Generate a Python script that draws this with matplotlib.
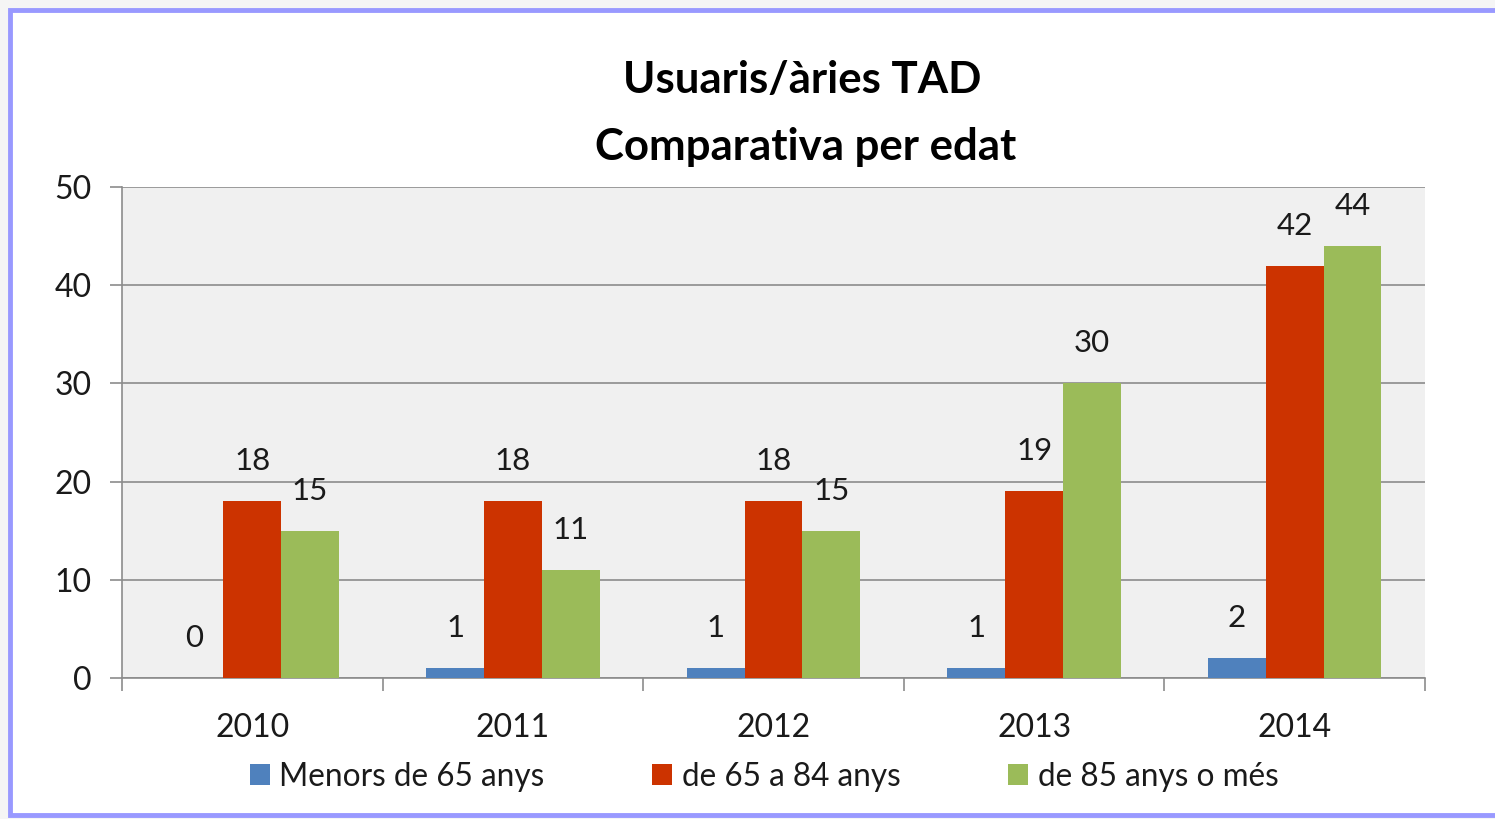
import matplotlib
matplotlib.use("Agg")
import matplotlib.pyplot as plt
from matplotlib.patches import Rectangle, Patch
import numpy as np

years = ["2010", "2011", "2012", "2013", "2014"]
series_names = ["Menors de 65 anys", "de 65 a 84 anys", "de 85 anys o més"]
menors65 = [0, 1, 1, 1, 2]
de65a84 = [18, 18, 18, 19, 42]
de85 = [15, 11, 15, 30, 44]
colors = ["#4F81BD", "#CC3300", "#9BBB59"]

plt.rcParams['font.family'] = ['Lato', 'DejaVu Sans']

W, H = 1495, 819
fig = plt.figure(figsize=(W / 100, H / 100), dpi=100)
fig.patch.set_facecolor("#F5F5F5")

# white panel with lavender border
fig.add_artist(Rectangle((10 / W, 1 - 815 / H), (W + 20) / W, (815 - 10) / H,
                         transform=fig.transFigure, facecolor="white",
                         edgecolor="#9999FF", linewidth=3.5, zorder=0))

ax = fig.add_axes([122 / W, 1 - 678 / H, (1425 - 122) / W, (678 - 187) / H])
ax.set_facecolor("#F0F0F0")

x = np.arange(len(years))
bw = 0.222
data = [menors65, de65a84, de85]
for i, (vals, c) in enumerate(zip(data, colors)):
    pos = x + (i - 1) * bw
    ax.bar(pos, vals, width=bw, color=c, zorder=3, label=series_names[i])
    for px, v in zip(pos, vals):
        ax.annotate(str(v), (px, v), xytext=(0, 40), textcoords="offset pixels",
                    ha="center", va="center", fontsize=22.5, color="#1a1a1a", zorder=4)

ax.set_xlim(-0.5, len(years) - 0.5)
ax.set_ylim(0, 50)
ax.set_yticks(range(0, 51, 10))
ax.yaxis.grid(True, color="#8C8C8C", linewidth=1.2, zorder=1)
ax.set_axisbelow(True)

ax.set_xticks(x)
ax.set_xticklabels(years)
ax.set_xticks(np.arange(-0.5, len(years), 1), minor=True)
ax.tick_params(axis="x", which="major", length=0, pad=25, labelsize=23, labelcolor="#1a1a1a")
ax.tick_params(axis="x", which="minor", length=9, width=1.2, color="#8C8C8C")
ax.tick_params(axis="y", length=9, width=1.2, color="#8C8C8C", pad=13, labelsize=23, labelcolor="#1a1a1a")

for s in ["top", "right"]:
    ax.spines[s].set_visible(False)
for s in ["left", "bottom"]:
    ax.spines[s].set_color("#8C8C8C")
    ax.spines[s].set_linewidth(1.2)

fig.text(802 / W, 1 - 80 / H, "Usuaris/àries TAD", ha="center", va="center",
         fontsize=31.5, fontweight="bold", color="black")
fig.text(806 / W, 1 - 147 / H, "Comparativa per edat", ha="center", va="center",
         fontsize=31.5, fontweight="bold", color="black")

handles = [Patch(facecolor=c) for c in colors]
fig.legend(handles, series_names, loc="center", bbox_to_anchor=(764 / W, 1 - 777 / H),
           ncol=3, frameon=False, fontsize=22.7, handlelength=0.65, handleheight=0.65,
           handletextpad=0.3, columnspacing=3.4, labelcolor="#1a1a1a")

fig.savefig("out.png", dpi=100, facecolor=fig.get_facecolor())
